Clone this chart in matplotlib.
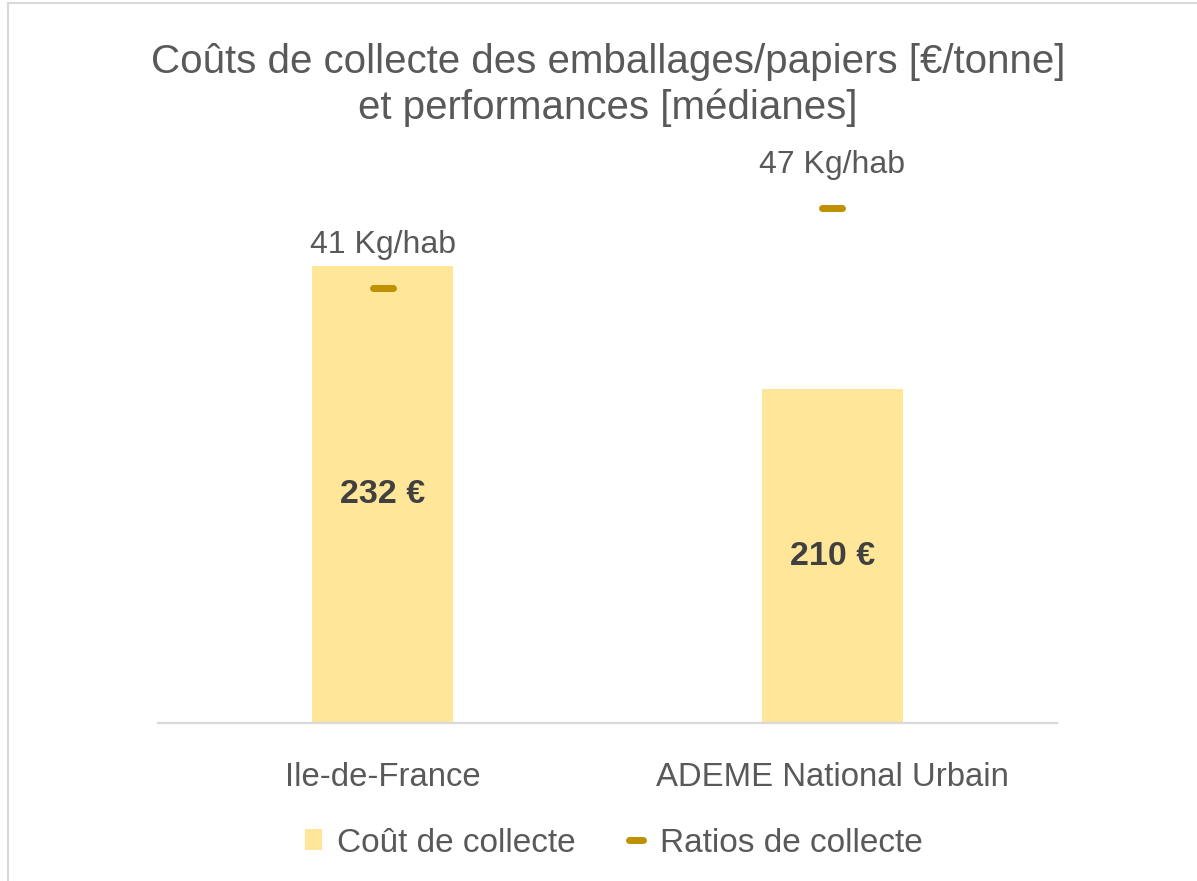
import matplotlib
matplotlib.use('Agg')
import matplotlib.pyplot as plt
from matplotlib.lines import Line2D
from matplotlib.patches import Patch
from matplotlib.markers import MarkerStyle

plt.rcParams['font.family'] = ['Liberation Sans', 'DejaVu Sans']

# data
categories = ['Ile-de-France', 'ADEME National Urbain']
couts = [232, 210]          # €/tonne
ratios = [41, 47]           # Kg/hab
cout_labels = ['232 €', '210 €']
ratio_labels = ['41 Kg/hab', '47 Kg/hab']

bar_color = '#FFE699'
mark_color = '#BF9000'
text_color = '#595959'

W, H = 1197, 881
fig = plt.figure(figsize=(W / 100, H / 100), dpi=100)

# plot area (pixels from reference)
left, right, top, bottom = 158, 1057, 163, 723
ax = fig.add_axes([left / W, 1 - bottom / H, (right - left) / W, (bottom - top) / H])
x = list(range(len(categories)))

ax.bar(x, couts, width=0.313, color=bar_color, zorder=2)
ax.set_ylim(150.4, 250.4)
ax.set_xlim(-0.5, 1.5)

for xi, v, lab in zip(x, couts, cout_labels):
    ax.text(xi, (150.4 + v) / 2, lab, ha='center', va='center', fontsize=24.5,
            fontweight='bold', color='#404040')

ax.set_xticks(x)
ax.set_xticklabels(categories, fontsize=23.7, color=text_color)
ax.tick_params(axis='x', length=0, pad=28)
ax.set_yticks([])
for s in ['top', 'right', 'left']:
    ax.spines[s].set_visible(False)
ax.spines['bottom'].set_color('#D9D9D9')
ax.spines['bottom'].set_linewidth(1.6)

# secondary axis for ratios
ax2 = ax.twinx()
ax2.set_ylim(8.2, 50.4)
ax2.set_axis_off()
dash = MarkerStyle('_', capstyle='round')
ax2.plot(x, ratios, linestyle='none', marker=dash, markersize=15,
         markeredgewidth=5, color=mark_color, zorder=3)
for xi, v, lab in zip(x, ratios, ratio_labels):
    ax2.annotate(lab, (xi, v), xytext=(0, 31), textcoords='offset points',
                 ha='center', va='center', fontsize=23, color=text_color)

fig.text(608 / W, 1 - 85 / H, "Coûts de collecte des emballages/papiers [€/tonne]\net performances [médianes]",
         ha='center', va='center', fontsize=29, color=text_color, linespacing=1.22)

handles = [Patch(facecolor=bar_color, edgecolor='none'),
           Line2D([], [], linestyle='none', marker=dash, markersize=10,
                  markeredgewidth=5, color=mark_color)]
fig.legend(handles, ['Coût de collecte', 'Ratios de collecte'], loc='center',
           bbox_to_anchor=(614 / W, 1 - 843 / H), ncol=2, frameon=False,
           fontsize=24, labelcolor=text_color, handlelength=0.52, handleheight=0.6,
           handletextpad=0.45, columnspacing=1.55)

# chart frame (only top and left edges visible)
fig.add_artist(Line2D([8 / W, 8 / W], [0, 1 - 3 / H], color='#D9D9D9', lw=1.5))
fig.add_artist(Line2D([8 / W, 1], [1 - 3 / H, 1 - 3 / H], color='#D9D9D9', lw=1.5))

fig.savefig('out.png', dpi=100, facecolor='white')
